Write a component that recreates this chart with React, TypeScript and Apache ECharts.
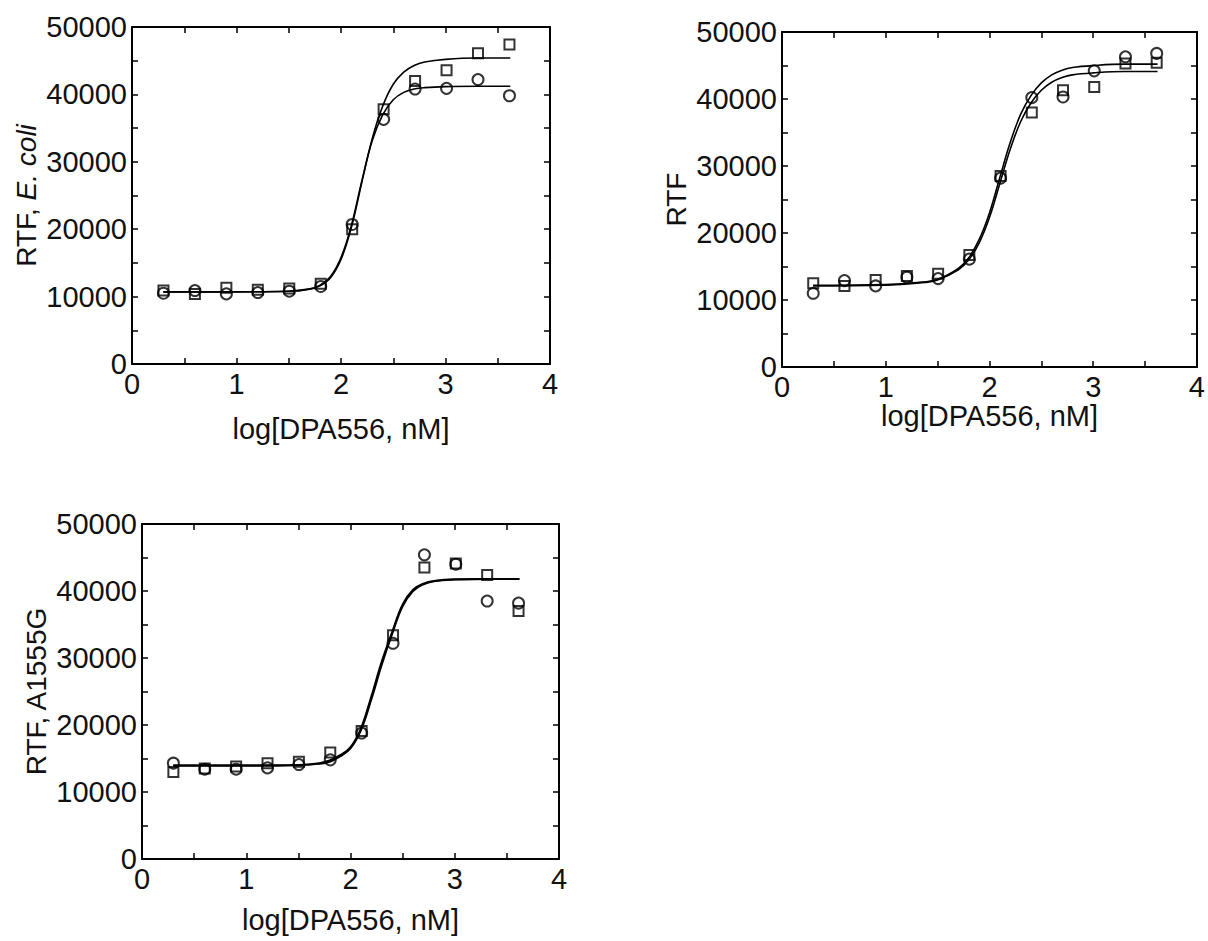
import React, { useEffect, useRef } from "react";
import * as echarts from "echarts";

// concentrations: log10 of 2,4,8,...,4096 nM
const X_POINTS = [0.301, 0.602, 0.903, 1.204, 1.505, 1.806, 2.107, 2.408, 2.709, 3.01, 3.311, 3.612];

const X_TICKS = [0, 1, 2, 3, 4];
const Y_TICKS = [0, 10000, 20000, 30000, 40000, 50000];
const X_TITLE = "log[DPA556, nM]";

// Panel 1 – E. coli
const P1_SQUARES = [10900, 10400, 11300, 11000, 11200, 11900, 20000, 37800, 42000, 43600, 46100, 47400];
const P1_CIRCLES = [10500, 10900, 10400, 10600, 10800, 11500, 20700, 36300, 40800, 40900, 42200, 39800];
const P1_CURVE_X = [0.3, 0.9, 1.5, 1.7, 1.8, 1.9, 2.0, 2.1, 2.2, 2.3, 2.4, 2.5, 2.6, 2.7, 2.8, 3.0, 3.3, 3.62];
const P1_CURVE_SQ = [10700, 10700, 10800, 11100, 11600, 12800, 15500, 20300, 27000, 33500, 38300, 41500, 43300, 44300, 44800, 45200, 45400, 45400];
const P1_CURVE_CI = [10700, 10700, 10800, 11150, 11700, 13000, 15800, 20600, 27200, 33200, 37000, 39200, 40300, 40800, 41000, 41150, 41200, 41200];

// Panel 2 – RTF
const P2_SQUARES = [12500, 12100, 13000, 13600, 13900, 16700, 28500, 38000, 41300, 41800, 45300, 45400];
const P2_CIRCLES = [11000, 12900, 12100, 13400, 13200, 16100, 28200, 40200, 40300, 44200, 46300, 46800];
const P2_CURVE_X = [0.3, 1.0, 1.3, 1.5, 1.7, 1.8, 1.9, 2.0, 2.1, 2.2, 2.3, 2.4, 2.5, 2.6, 2.7, 2.8, 3.0, 3.3, 3.62];
const P2_CURVE_UP = [12200, 12300, 12600, 13100, 14700, 16300, 19000, 23000, 28300, 33500, 37700, 40500, 42400, 43600, 44300, 44700, 45000, 45200, 45200];
const P2_CURVE_LO = [12100, 12200, 12500, 13000, 14500, 16000, 18500, 22300, 27400, 32500, 36600, 39400, 41300, 42500, 43200, 43600, 43900, 44100, 44100];

// Panel 3 – A1555G
const P3_SQUARES = [13000, 13500, 13800, 14300, 14500, 15900, 19100, 33400, 43500, 44100, 42400, 37000];
const P3_CIRCLES = [14300, 13400, 13400, 13600, 14100, 14800, 18800, 32200, 45400, 44000, 38500, 38200];
const P3_CURVE_X = [0.3, 1.0, 1.5, 1.7, 1.8, 1.9, 2.0, 2.1, 2.2, 2.3, 2.4, 2.5, 2.6, 2.7, 2.8, 3.0, 3.3, 3.62];
const P3_CURVE_A = [14000, 14000, 14050, 14300, 14700, 15500, 16700, 19500, 24300, 29500, 33900, 38000, 40200, 41100, 41500, 41750, 41800, 41800];
const P3_CURVE_B = [13900, 13900, 14000, 14200, 14500, 15300, 16500, 19200, 23800, 29000, 33600, 37700, 40000, 41000, 41450, 41700, 41800, 41800];

const FONT = "'Liberation Sans', Arial, sans-serif";
const INK = "#111";
const FS = 29;

const zip = (xs: number[], ys: number[]) => xs.map((x, i) => [x, ys[i]]);

const tickStyle = { color: "#000", width: 1.5 };
const lineStyle = { color: "#000", width: 2 };
const plain = (v: number) => String(v);

function xAxes(grid: number, nameGap: number) {
  const base = {
    gridIndex: grid,
    type: "value",
    min: X_TICKS[0],
    max: X_TICKS[X_TICKS.length - 1],
    interval: 1,
    splitLine: { show: false },
    axisLine: { show: true, onZero: false, lineStyle },
    axisTick: { show: true, inside: true, length: 6, lineStyle: tickStyle },
    minorTick: { show: true, splitNumber: 2, length: 6, lineStyle: tickStyle },
  };
  return [
    {
      ...base,
      position: "bottom",
      name: X_TITLE,
      nameLocation: "middle",
      nameGap,
      nameTextStyle: { fontSize: FS, fontFamily: FONT, color: INK },
      axisLabel: { show: true, margin: 5, fontSize: FS, fontFamily: FONT, color: INK, formatter: plain },
    },
    { ...base, position: "top", axisLabel: { show: false } },
  ];
}

function yAxes(grid: number, name: string, rich?: any) {
  const base = {
    gridIndex: grid,
    type: "value",
    min: Y_TICKS[0],
    max: Y_TICKS[Y_TICKS.length - 1],
    interval: 10000,
    splitLine: { show: false },
    axisLine: { show: true, onZero: false, lineStyle },
    axisTick: { show: true, inside: true, length: 6, lineStyle: tickStyle },
    minorTick: { show: true, splitNumber: 2, length: 6, lineStyle: tickStyle },
  };
  return [
    {
      ...base,
      position: "left",
      name,
      nameLocation: "middle",
      nameGap: 92,
      nameTextStyle: { fontSize: 28, fontFamily: FONT, color: INK, rich },
      axisLabel: { show: true, margin: 5, fontSize: FS, fontFamily: FONT, color: INK, formatter: plain },
    },
    { ...base, position: "right", axisLabel: { show: false } },
  ];
}

function scatter(axis: number, ys: number[], symbol: string, size: number) {
  return {
    type: "scatter",
    xAxisIndex: axis,
    yAxisIndex: axis,
    data: zip(X_POINTS, ys),
    symbol,
    symbolSize: size,
    itemStyle: { color: "rgba(255,255,255,0)", borderColor: "#000", borderWidth: 2 },
    z: 3,
  };
}

function curve(axis: number, xs: number[], ys: number[], width: number) {
  return {
    type: "line",
    xAxisIndex: axis,
    yAxisIndex: axis,
    data: zip(xs, ys),
    smooth: 0.4,
    showSymbol: false,
    symbol: "none",
    lineStyle: { color: "#000", width },
    z: 2,
  };
}

export default function App() {
  const ref = useRef<HTMLDivElement>(null);
  useEffect(() => {
    if (!ref.current) return;
    const chart = echarts.init(ref.current, undefined, { renderer: "svg" });
    const xa = [...xAxes(0, 50), ...xAxes(1, 22), ...xAxes(2, 46)];
    const ya = [
      ...yAxes(0, "RTF, {i|E. coli}", { i: { fontSize: 28, fontFamily: FONT, color: INK, fontStyle: "italic" } }),
      ...yAxes(1, "RTF"),
      ...yAxes(2, "RTF, A1555G"),
    ];
    chart.setOption({
      animation: false,
      backgroundColor: "#fff",
      grid: [
        { left: 132, top: 27, width: 418, height: 337 },
        { left: 782, top: 32, width: 419, height: 335 },
        { left: 142, top: 524, width: 417, height: 335 },
      ],
      xAxis: xa,
      yAxis: ya,
      series: [
        curve(0, P1_CURVE_X, P1_CURVE_SQ, 1.6),
        curve(0, P1_CURVE_X, P1_CURVE_CI, 1.6),
        scatter(0, P1_SQUARES, "rect", 10),
        scatter(0, P1_CIRCLES, "circle", 11),
        curve(2, P2_CURVE_X, P2_CURVE_UP, 1.6),
        curve(2, P2_CURVE_X, P2_CURVE_LO, 1.6),
        scatter(2, P2_SQUARES, "rect", 10),
        scatter(2, P2_CIRCLES, "circle", 11),
        curve(4, P3_CURVE_X, P3_CURVE_A, 1.9),
        curve(4, P3_CURVE_X, P3_CURVE_B, 1.9),
        scatter(4, P3_SQUARES, "rect", 10),
        scatter(4, P3_CIRCLES, "circle", 11),
      ],
    });
    return () => chart.dispose();
  }, []);
  return (
    <div
      ref={ref}
      style={{ position: "absolute", left: 0, top: 0, width: 1208, height: 941, background: "#fff" }}
    />
  );
}
